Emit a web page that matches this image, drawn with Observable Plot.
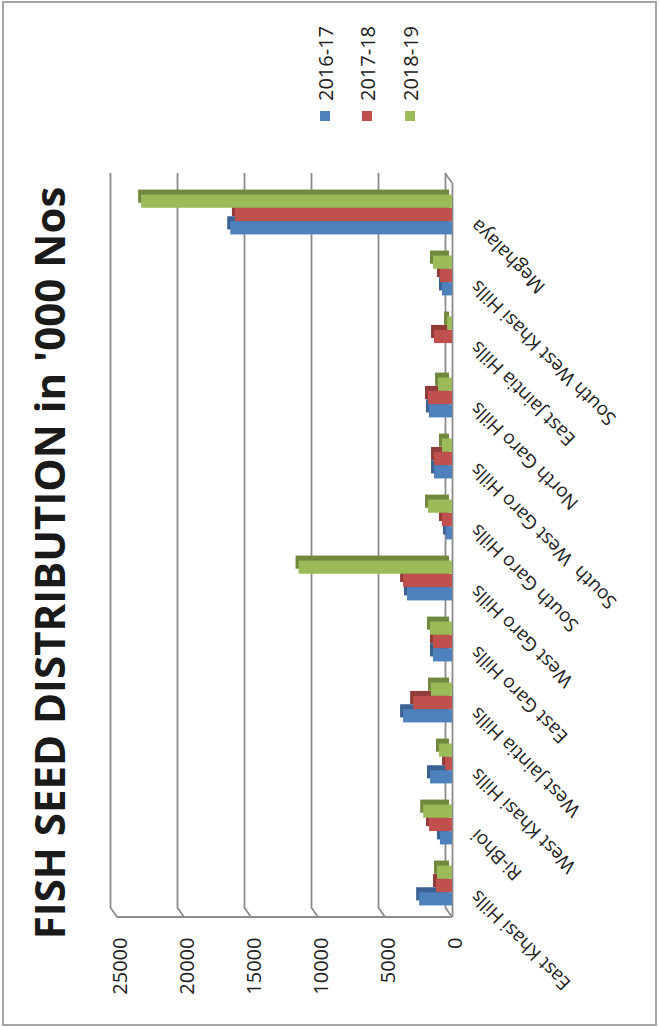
<!DOCTYPE html>
<html><head><meta charset="utf-8">
<script src="https://cdn.jsdelivr.net/npm/d3@7"></script>
<script src="https://cdn.jsdelivr.net/npm/@observablehq/plot@0.6"></script>
<style>
html,body{margin:0;padding:0;background:#fff;}
#page{position:relative;width:659px;height:1027px;overflow:hidden;}
#chart{position:absolute;left:0;top:0;width:1027px;height:659px;transform-origin:0 0;transform:translate(0,1027px) rotate(-90deg);font-family:"Open Sans",sans-serif;color:#1a1a1a;}
#chart svg{position:absolute;left:0;top:0;}
#chart svg text{white-space:pre;}
.box{position:absolute;left:1px;top:2px;width:1025px;height:655px;box-sizing:border-box;border:2px solid #a6a6a6;}
.title{position:absolute;left:464px;top:48px;transform:translate(-50%,-50%);white-space:nowrap;font-weight:700;font-size:42px;color:#1a1a1a;}
.leg{position:absolute;display:flex;align-items:center;font-size:20px;white-space:nowrap;color:#222;}
.leg span.sw{display:inline-block;width:10px;height:10px;margin-right:10px;}
</style>
</head><body>
<div id="page"><div id="chart"><div class="box"></div></div></div>
<script>
const districts = ["East Khasi Hills","Ri-Bhoi","West Khasi Hills","West Jaintia Hills","East Garo Hills","West Garo Hills","South Garo Hills","South  West Garo Hills","North Garo Hills","East Jaintia Hills","South West Khasi Hills","Meghalaya"];
const years = ["2016-17","2017-18","2018-19"];
const v2016_17 = [2450, 900, 1640, 3650, 1420, 3360, 450, 1340, 1720, 0, 750, 16550];
const v2017_18 = [1190, 1720, 520, 2900, 1420, 3650, 750, 1340, 1790, 1340, 900, 16200];
const v2018_19 = [1120, 2150, 970, 1570, 1640, 11450, 1790, 750, 1040, 370, 1420, 23200];
const yTicks = [0, 5000, 10000, 15000, 20000, 25000];
const titleText = "FISH SEED DISTRIBUTION in '000 Nos";

const series = [v2016_17, v2017_18, v2018_19];
const colors = ["#4F81BD", "#C0504D", "#9BBB59"];
const darks = ["#3B6292", "#923C3A", "#71893F"];

const W = 1027, H = 659, mL = 110, mR = 183, mT = 117, mB = 207;
const bw = (W - mL - mR) / districts.length;
const groupHalf = 20, barW = 40 / 3;

function walls(index, scales, values, dims) {
  const g = d3.create("svg:g").attr("stroke", "#8c8c8c").attr("stroke-width", 1.8).attr("fill", "none");
  const x0 = dims.marginLeft, x1 = dims.width - dims.marginRight;
  const y = scales.y;
  for (const t of yTicks) {
    g.append("line").attr("x1", x0).attr("y1", y(t)).attr("x2", x0 + 10).attr("y2", y(t) - 7);
  }
  g.append("line").attr("x1", x0).attr("y1", y(yTicks[yTicks.length - 1])).attr("x2", x0).attr("y2", y(0));
  g.append("line").attr("x1", x1).attr("y1", y(0)).attr("x2", x1 + 10).attr("y2", y(0) - 7);
  return g.node();
}

const marks = [
  Plot.ruleY(yTicks, {dx: 10, dy: -7, stroke: "#8c8c8c", strokeWidth: 1.8}),
  Plot.ruleY([0], {stroke: "#8c8c8c", strokeWidth: 1.8}),
  walls
];
years.forEach((yr, k) => {
  const rows = districts.map((d, i) => ({district: d, year: yr, value: series[k][i]}));
  const insetLeft = bw / 2 - groupHalf + k * barW;
  const insetRight = bw - insetLeft - barW;
  marks.push(Plot.barY(rows, {x: "district", y: "value", fill: darks[k], insetLeft, insetRight, dx: 5, dy: -3}));
  marks.push(Plot.barY(rows, {x: "district", y: "value", fill: colors[k], insetLeft, insetRight}));
});
marks.push(Plot.text(yTicks, {y: d => d, text: d => String(d), frameAnchor: "left", textAnchor: "end", dx: -21, dy: 3, fontSize: 20, fill: "#222"}));
marks.push(Plot.text(districts, {x: d => d, text: d => d, frameAnchor: "bottom", rotate: -45, textAnchor: "end", dx: -4, dy: 26, fontSize: 19, fill: "#222"}));

const plot = Plot.plot({
  width: W, height: H,
  marginLeft: mL, marginRight: mR, marginTop: mT, marginBottom: mB,
  x: {type: "band", domain: districts, padding: 0, axis: null},
  y: {domain: [0, 25000], axis: null},
  style: {fontFamily: "Open Sans", background: "transparent", overflow: "visible"},
  marks
});
const chart = document.getElementById("chart");
chart.appendChild(plot);

const title = document.createElement("div");
title.className = "title";
title.textContent = titleText;
chart.appendChild(title);

const legendV = [325, 367, 410];
years.forEach((yr, k) => {
  const item = document.createElement("div");
  item.className = "leg";
  item.style.left = "906px";
  item.style.top = (legendV[k] - 14) + "px";
  item.style.height = "28px";
  const sw = document.createElement("span");
  sw.className = "sw";
  sw.style.background = colors[k];
  item.appendChild(sw);
  const t = document.createElement("span");
  t.textContent = yr;
  item.appendChild(t);
  chart.appendChild(item);
});
</script>
</body></html>
